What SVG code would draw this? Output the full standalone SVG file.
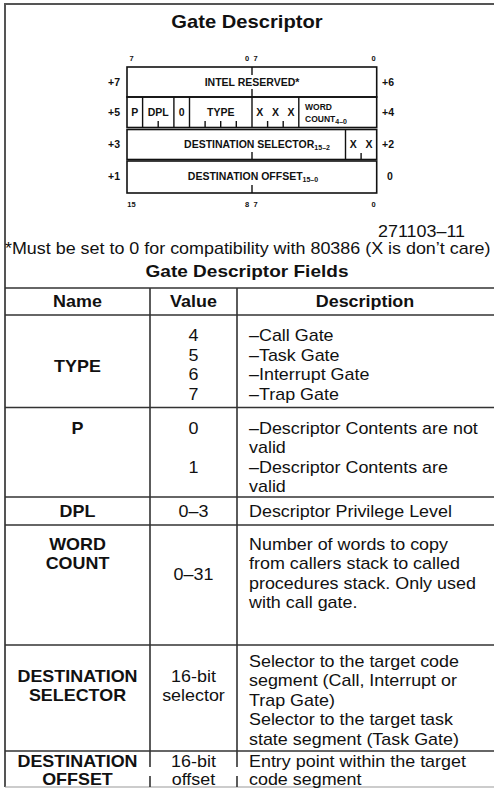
<svg xmlns="http://www.w3.org/2000/svg" width="494" height="788" viewBox="0 0 494 788">
<style>
.bx{fill:none;stroke:#111;stroke-width:1.6}
.tk{stroke:#111;stroke-width:1.4}
.dg{font-family:"Liberation Sans",Arial,sans-serif;font-weight:bold;fill:#111}
.d10{font-size:10.5px}
.d8{font-size:8.5px}
.bn{font-size:7.5px}
.sub{font-size:7px}
.tl{stroke:#333;stroke-width:1.6;fill:none}
.tt{font-family:"Liberation Sans",Arial,sans-serif;font-size:16px;fill:#111}
.b{font-weight:bold}
.h{font-size:18px;font-weight:bold}
.h2{font-size:17px;font-weight:bold}
.m{text-anchor:middle}
.e{text-anchor:end}
</style>
<rect width="494" height="788" fill="#fff"/>
<g id="frame">
<path d="M5,787 V4 H494" stroke="#555" stroke-width="2" fill="none"/>
<line x1="5" y1="787" x2="494" y2="787" stroke="#999" stroke-width="1.2"/>
</g>
<g id="title" transform="scale(1.12 1)">
<text x="220.54" y="28" class="tt h m">Gate Descriptor</text>
</g>
<g id="descriptor">
<g id="bit-numbers-top" class="dg bn">
<text x="131.5" y="60.5" class="m">7</text>
<text x="247" y="60.5" class="m">0</text>
<text x="255.5" y="60.5" class="m">7</text>
<text x="373.5" y="60.5" class="m">0</text>
</g>
<g id="row-7-6">
<rect x="127" y="67" width="249.7" height="30" class="bx"/>
<line x1="252" y1="67" x2="252" y2="75" class="tk"/>
<line x1="252" y1="89" x2="252" y2="97" class="tk"/>
<g class="dg d10">
<text x="114" y="86" class="m">+7</text>
<text x="252" y="86" class="m">INTEL RESERVED*</text>
<text x="388" y="86" class="m">+6</text>
</g>
</g>
<g id="row-5-4">
<rect x="127" y="97" width="249.7" height="30.5" class="bx"/>
<g class="tk">
<line x1="142.6" y1="97" x2="142.6" y2="127.5"/>
<line x1="173.9" y1="97" x2="173.9" y2="127.5"/>
<line x1="189.5" y1="97" x2="189.5" y2="127.5"/>
<line x1="252" y1="97" x2="252" y2="127.5"/>
<line x1="298.8" y1="97" x2="298.8" y2="127.5"/>
<line x1="158.2" y1="121" x2="158.2" y2="127.5"/>
<line x1="205.1" y1="121" x2="205.1" y2="127.5"/>
<line x1="220.7" y1="121" x2="220.7" y2="127.5"/>
<line x1="236.3" y1="121" x2="236.3" y2="127.5"/>
<line x1="267.6" y1="121" x2="267.6" y2="127.5"/>
<line x1="283.2" y1="121" x2="283.2" y2="127.5"/>
</g>
<g class="dg d10">
<text x="114" y="116" class="m">+5</text>
<text x="134.8" y="116" class="m">P</text>
<text x="158.2" y="116" class="m">DPL</text>
<text x="181.7" y="116" class="m">0</text>
<text x="220.7" y="116" class="m">TYPE</text>
<text x="259.8" y="116" class="m">X</text>
<text x="275.4" y="116" class="m">X</text>
<text x="291" y="116" class="m">X</text>
<text x="388" y="116" class="m">+4</text>
</g>
<g class="dg d8">
<text x="305" y="109.5">WORD</text>
<text x="305" y="121.5">COUNT<tspan class="sub" dy="2">4–0</tspan></text>
</g>
</g>
<g id="row-3-2">
<rect x="127" y="129.5" width="249.7" height="30" class="bx"/>
<line x1="345.5" y1="129.5" x2="345.5" y2="159.5" class="tk"/>
<line x1="252" y1="152" x2="252" y2="159.5" class="tk"/>
<line x1="361.1" y1="153" x2="361.1" y2="159.5" class="tk"/>
<g class="dg d10">
<text x="114" y="148" class="m">+3</text>
<text x="257" y="148" class="m">DESTINATION SELECTOR<tspan class="sub" dy="2">15–2</tspan></text>
<text x="353.3" y="148" class="m">X</text>
<text x="368.9" y="148" class="m">X</text>
<text x="388" y="148" class="m">+2</text>
</g>
</g>
<g id="row-1-0">
<rect x="127" y="161" width="249.7" height="32" class="bx"/>
<line x1="252" y1="185" x2="252" y2="193" class="tk"/>
<g class="dg d10">
<text x="114" y="180" class="m">+1</text>
<text x="253" y="180" class="m">DESTINATION OFFSET<tspan class="sub" dy="2">15–0</tspan></text>
<text x="390" y="180" class="m">0</text>
</g>
</g>
<g id="bit-numbers-bottom" class="dg bn">
<text x="131.5" y="206.5" class="m">15</text>
<text x="247" y="206.5" class="m">8</text>
<text x="255.5" y="206.5" class="m">7</text>
<text x="373.5" y="206.5" class="m">0</text>
</g>
</g>
<g id="notes" transform="scale(1.12 1)">
<text x="415.18" y="237" class="tt e">271103–11</text>
<text x="4.46" y="254.5" class="tt">*Must be set to 0 for compatibility with 80386 (X is don’t care)</text>
<text x="220.54" y="277.5" class="tt h2 m">Gate Descriptor Fields</text>
</g>
<g id="table">
<g id="table-lines" class="tl">
<line x1="5" y1="288" x2="494" y2="288"/>
<line x1="5" y1="315" x2="494" y2="315"/>
<line x1="5" y1="407.5" x2="494" y2="407.5"/>
<line x1="5" y1="497" x2="494" y2="497"/>
<line x1="5" y1="525" x2="494" y2="525"/>
<line x1="5" y1="645" x2="494" y2="645"/>
<line x1="5" y1="751" x2="494" y2="751"/>
<line x1="150" y1="288" x2="150" y2="767"/>
<line x1="237" y1="288" x2="237" y2="767"/>
<line x1="150" y1="776" x2="150" y2="787"/>
<line x1="237" y1="776" x2="237" y2="787"/>
</g>
<g transform="scale(1.12 1)">
<g id="row-header" class="tt b">
<text x="69.2" y="307" class="m">Name</text>
<text x="172.77" y="307" class="m">Value</text>
<text x="325.89" y="307" class="m">Description</text>
</g>
<g id="row-type" class="tt">
<text x="69.2" y="372" class="m b">TYPE</text>
<text x="172.77" y="341.5" class="m">4</text>
<text x="172.77" y="361" class="m">5</text>
<text x="172.77" y="380.5" class="m">6</text>
<text x="172.77" y="400" class="m">7</text>
<text x="222.32" y="341.5">–Call Gate</text>
<text x="222.32" y="361">–Task Gate</text>
<text x="222.32" y="380.5">–Interrupt Gate</text>
<text x="222.32" y="400">–Trap Gate</text>
</g>
<g id="row-p" class="tt">
<text x="69.2" y="434" class="m b">P</text>
<text x="172.77" y="434" class="m">0</text>
<text x="222.32" y="434">–Descriptor Contents are not</text>
<text x="222.32" y="453.5">valid</text>
<text x="172.77" y="473.5" class="m">1</text>
<text x="222.32" y="473.5">–Descriptor Contents are</text>
<text x="222.32" y="492.5">valid</text>
</g>
<g id="row-dpl" class="tt">
<text x="69.2" y="517" class="m b">DPL</text>
<text x="172.77" y="517" class="m">0–3</text>
<text x="222.32" y="517">Descriptor Privilege Level</text>
</g>
<g id="row-word-count" class="tt">
<text x="69.2" y="550" class="m b">WORD</text>
<text x="69.2" y="569.5" class="m b">COUNT</text>
<text x="172.77" y="580" class="m">0–31</text>
<text x="222.32" y="550">Number of words to copy</text>
<text x="222.32" y="569.5">from callers stack to called</text>
<text x="222.32" y="589">procedures stack. Only used</text>
<text x="222.32" y="608.5">with call gate.</text>
</g>
<g id="row-dest-selector" class="tt">
<text x="69.2" y="682" class="m b">DESTINATION</text>
<text x="69.2" y="701.5" class="m b">SELECTOR</text>
<text x="172.77" y="682" class="m">16-bit</text>
<text x="172.77" y="701.5" class="m">selector</text>
<text x="222.32" y="667">Selector to the target code</text>
<text x="222.32" y="686.5">segment (Call, Interrupt or</text>
<text x="222.32" y="706">Trap Gate)</text>
<text x="222.32" y="725.5">Selector to the target task</text>
<text x="222.32" y="745">state segment (Task Gate)</text>
</g>
<g id="row-dest-offset" class="tt">
<text x="69.2" y="767" class="m b">DESTINATION</text>
<text x="69.2" y="785.5" class="m b">OFFSET</text>
<text x="172.77" y="767" class="m">16-bit</text>
<text x="172.77" y="785.5" class="m">offset</text>
<text x="222.32" y="767">Entry point within the target</text>
<text x="222.32" y="785.5">code segment</text>
</g>
</g>
</g>
</svg>
